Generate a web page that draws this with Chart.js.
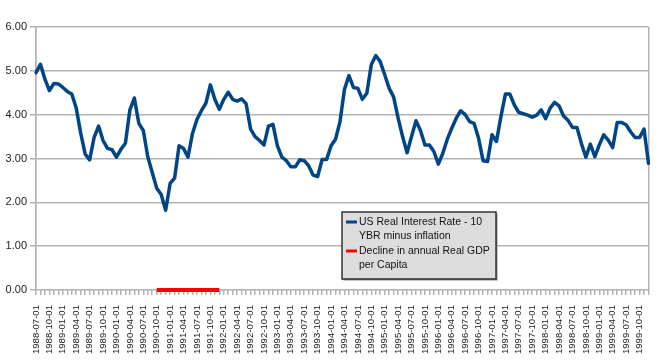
<!DOCTYPE html>
<html>
<head>
<meta charset="utf-8">
<script src="https://cdn.jsdelivr.net/npm/chart.js@4.4.1/dist/chart.umd.min.js"></script>
<style>
html,body{margin:0;padding:0;background:#fff;}
#wrap{width:670px;height:363px;position:relative;}
</style>
</head>
<body>
<div id="wrap"><canvas id="c" width="670" height="363"></canvas></div>
<script>
// Categories: monthly, 1988-07 to 1999-12
const firstYear = 1988, firstMonth = 7, monthCount = 138;
const months = [];
for (let k = 0; k < monthCount; k++) {
  const m0 = firstMonth - 1 + k;
  const y = firstYear + Math.floor(m0 / 12);
  const m = (m0 % 12) + 1;
  months.push(y + '-' + String(m).padStart(2, '0') + '-01');
}

const seriesNames = ['US Real Interest Rate - 10 YBR minus inflation', 'Decline in annual Real GDP per Capita'];

const realRate = [
  4.96, 5.15, 4.81, 4.55, 4.71, 4.70,             // 1988 Jul-Dec
  4.62, 4.53, 4.47, 4.15, 3.58, 3.10, 2.97, 3.48, 3.74, 3.41, 3.23, 3.20, // 1989
  3.03, 3.21, 3.35, 4.11, 4.38, 3.80, 3.64, 3.04, 2.68, 2.32, 2.18, 1.82, // 1990
  2.43, 2.55, 3.29, 3.23, 3.03, 3.57, 3.89, 4.09, 4.26, 4.68, 4.35, 4.12, // 1991
  4.35, 4.51, 4.35, 4.31, 4.36, 4.25, 3.67, 3.50, 3.41, 3.31, 3.74, 3.78, // 1992
  3.29, 3.03, 2.95, 2.81, 2.81, 2.97, 2.95, 2.83, 2.62, 2.59, 2.98, 2.98, // 1993
  3.29, 3.44, 3.84, 4.58, 4.89, 4.62, 4.60, 4.35, 4.49, 5.14, 5.35, 5.21, // 1994
  4.91, 4.60, 4.40, 3.92, 3.50, 3.13, 3.50, 3.86, 3.64, 3.31, 3.31, 3.16, // 1995
  2.87, 3.12, 3.44, 3.69, 3.92, 4.09, 4.00, 3.84, 3.80, 3.46, 2.95, 2.93, // 1996
  3.54, 3.39, 3.96, 4.47, 4.47, 4.22, 4.05, 4.02, 3.99, 3.94, 3.99, 4.11, // 1997
  3.91, 4.15, 4.28, 4.20, 3.97, 3.87, 3.71, 3.71, 3.34, 3.03, 3.33, 3.04, // 1998
  3.31, 3.54, 3.42, 3.25, 3.82, 3.82, 3.77, 3.61, 3.48, 3.48, 3.67, 2.89  // 1999
];

const declineMonths = ['1990-10-01','1990-11-01','1990-12-01','1991-01-01','1991-02-01','1991-03-01','1991-04-01','1991-05-01','1991-06-01','1991-07-01','1991-08-01','1991-09-01','1991-10-01','1991-11-01','1991-12-01'];
const declineLevel = 0;
const declineData = months.map(m => declineMonths.includes(m) ? declineLevel : null);

const yTicks = [0, 1, 2, 3, 4, 5, 6];

const FONT = '"Liberation Sans", Arial, sans-serif';
const GRID = '#b3b3b3';
const BLUE = '#004586';
const RED = '#ff0000';

const legendBox = {
  id: 'legendBox',
  afterDraw(chart) {
    const ctx = chart.ctx;
    const x = 342, y = 212, w = 154, h = 67;
    ctx.save();
    ctx.fillStyle = '#8a8a8a';
    ctx.fillRect(x + 1.5, y + 1.5, w, h);
    ctx.fillStyle = '#dddddd';
    ctx.fillRect(x, y, w, h);
    ctx.strokeStyle = '#333333';
    ctx.lineWidth = 1.5;
    ctx.strokeRect(x, y, w, h);
    ctx.font = '10.5px ' + FONT;
    ctx.fillStyle = '#111111';
    ctx.textBaseline = 'middle';
    const maxW = 134;
    let ly = y + 10;
    chart.data.datasets.forEach(ds => {
      const words = ds.label.split(' ');
      const lines = [];
      let cur = '';
      words.forEach(wd => {
        const t = cur ? cur + ' ' + wd : wd;
        if (ctx.measureText(t).width > maxW && cur) { lines.push(cur); cur = wd; }
        else cur = t;
      });
      if (cur) lines.push(cur);
      ctx.strokeStyle = ds.borderColor;
      ctx.lineWidth = 3;
      ctx.beginPath();
      ctx.moveTo(346, ly);
      ctx.lineTo(357, ly);
      ctx.stroke();
      lines.forEach((ln, i) => {
        ctx.fillText(ln, 359, ly + i * 14);
      });
      ly += lines.length * 14 + 1;
    });
    ctx.restore();
  }
};

new Chart(document.getElementById('c'), {
  type: 'line',
  data: {
    labels: months,
    datasets: [
      {
        label: seriesNames[0],
        data: realRate,
        borderColor: BLUE,
        backgroundColor: BLUE,
        borderWidth: 3.5,
        pointRadius: 0,
        tension: 0,
        borderJoinStyle: 'round',
        borderCapStyle: 'round',
        fill: false
      },
      {
        label: seriesNames[1],
        data: declineData,
        borderColor: RED,
        backgroundColor: RED,
        borderWidth: 4,
        pointRadius: 0,
        tension: 0,
        borderCapStyle: 'butt',
        spanGaps: false,
        clip: false,
        fill: false
      }
    ]
  },
  options: {
    responsive: false,
    animation: false,
    events: [],
    layout: { padding: { top: 27, right: 7, left: 0, bottom: 0 } },
    plugins: { legend: { display: false }, tooltip: { enabled: false } },
    scales: {
      x: {
        offset: false,
        afterFit(s) { s.height = 73; },
        grid: {
          color: (c) => (c.index === 0 || c.index === monthCount - 1) ? GRID : 'rgba(0,0,0,0)',
          tickColor: GRID,
          lineWidth: 1.5,
          tickLength: 5,
          drawOnChartArea: true
        },
        border: { display: false },
        ticks: {
          autoSkip: false,
          maxRotation: 90,
          minRotation: 90,
          padding: 10,
          color: '#222222',
          font: { family: FONT, size: 9.6 },
          callback: function (v, i) { return i % 3 === 0 ? months[i] : ''; }
        }
      },
      y: {
        min: 0,
        max: 6,
        afterFit(s) { s.width = 36; },
        afterBuildTicks(s) { s.ticks = yTicks.map(v => ({ value: v })); },
        grid: { color: GRID, lineWidth: 1.5, tickLength: 6 },
        border: { display: true, color: GRID, width: 1.5 },
        ticks: {
          padding: 3,
          color: '#222222',
          font: { family: FONT, size: 11 },
          callback: (v) => Number(v).toFixed(2)
        }
      }
    }
  },
  plugins: [legendBox]
});
</script>
</body>
</html>
